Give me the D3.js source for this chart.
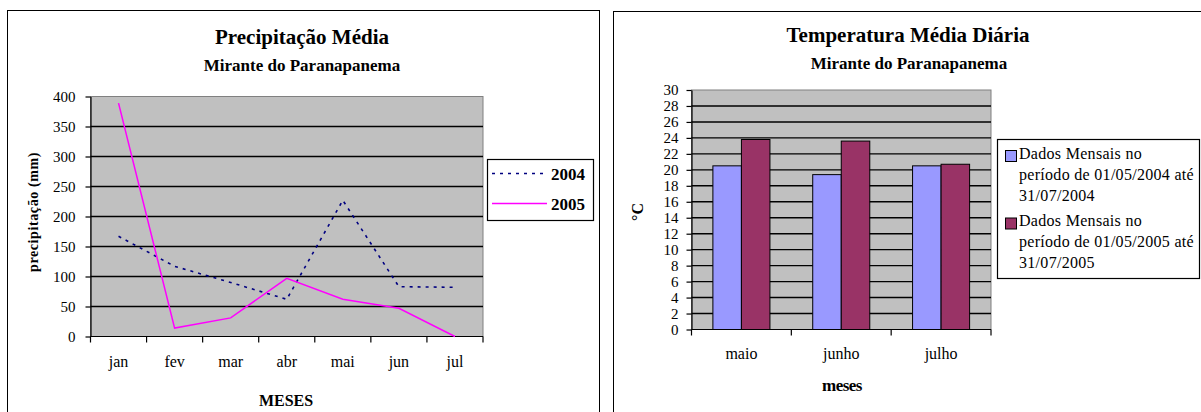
<!DOCTYPE html>
<html>
<head>
<meta charset="utf-8">
<script src="https://cdn.jsdelivr.net/npm/d3@7"></script>
<style>
  html, body { margin: 0; padding: 0; background: #fff; }
  svg { display: block; }
</style>
</head>
<body>
<svg id="chart" width="1201" height="412"></svg>
<script>
// Precipitação média mensal (mm)
const mesesPrec = ["jan", "fev", "mar", "abr", "mai", "jun", "jul"];
const prec2004 = [167, 117, 90, 62, 227, 83, 82];
const prec2005 = [389, 14, 31, 97, 62, 47, 0];
const precTicks = [0, 50, 100, 150, 200, 250, 300, 350, 400];
const precSeries = ["2004", "2005"];

// Temperatura média diária (°C)
const mesesTemp = ["maio", "junho", "julho"];
const temp2004 = [20.5, 19.4, 20.5];
const temp2005 = [23.8, 23.6, 20.7];
const tempTicks = [0, 2, 4, 6, 8, 10, 12, 14, 16, 18, 20, 22, 24, 26, 28, 30];
const tempSeries = [
  ["Dados Mensais no", "período de 01/05/2004 até", "31/07/2004"],
  ["Dados Mensais no", "período de 01/05/2005 até", "31/07/2005"]
];

const serif = "'Liberation Serif', 'Times New Roman', serif";
const svg = d3.select("#chart");
const plotBg = "#c0c0c0";

// ---------- Painel esquerdo: precipitação ----------
const L = svg.append("g");
L.append("rect").attr("x", 7.5).attr("y", 10.5).attr("width", 592).attr("height", 430)
  .attr("fill", "#fff").attr("stroke", "#000").attr("stroke-width", 1);

L.append("text").attr("x", 302).attr("y", 44).attr("text-anchor", "middle")
  .attr("font-size", 21).attr("font-weight", "bold").text("Precipitação Média");
L.append("text").attr("x", 302).attr("y", 71).attr("text-anchor", "middle")
  .attr("font-size", 17).attr("font-weight", "bold")
  .text("Mirante do Paranapanema");

const xP = d3.scaleBand().domain(mesesPrec).range([90.5, 483]);
const yP = d3.scaleLinear().domain([0, 400]).range([336.5, 96.5]);

L.append("rect").attr("x", xP.range()[0]).attr("y", yP(400))
  .attr("width", xP.range()[1] - xP.range()[0]).attr("height", yP(0) - yP(400))
  .attr("fill", plotBg).attr("stroke", "#808080").attr("stroke-width", 1);

L.append("g").selectAll("line").data(precTicks.filter(t => t > 0 && t < 400)).join("line")
  .attr("x1", xP.range()[0]).attr("x2", xP.range()[1])
  .attr("y1", d => yP(d)).attr("y2", d => yP(d))
  .attr("stroke", "#000").attr("stroke-width", 1.4);

const axLP = L.append("g").attr("transform", `translate(${xP.range()[0]},0)`)
  .call(d3.axisLeft(yP).tickValues(precTicks).tickSize(5).tickPadding(10).tickSizeOuter(0));
axLP.select(".domain").attr("stroke", "#000").attr("stroke-width", 1.2);
axLP.selectAll(".tick line").attr("stroke", "#000").attr("stroke-width", 1.2);
axLP.selectAll(".tick text").attr("font-size", 15);

// eixo x: marcas nos limites das categorias, rótulos no centro
const bP = L.append("g");
bP.append("line").attr("x1", xP.range()[0]).attr("x2", xP.range()[1])
  .attr("y1", yP(0)).attr("y2", yP(0)).attr("stroke", "#000").attr("stroke-width", 1.2);
bP.selectAll("line.tk").data(mesesPrec.map(m => xP(m)).concat([xP.range()[1]])).join("line")
  .attr("class", "tk").attr("x1", d => d).attr("x2", d => d)
  .attr("y1", yP(0)).attr("y2", yP(0) + 6).attr("stroke", "#000").attr("stroke-width", 1.2);
bP.selectAll("text").data(mesesPrec).join("text")
  .attr("x", d => xP(d) + xP.bandwidth() / 2).attr("y", 367)
  .attr("text-anchor", "middle").attr("font-size", 16).text(d => d);

L.append("text").attr("transform", "translate(38,212) rotate(-90)")
  .attr("text-anchor", "middle").attr("font-size", 14).attr("font-weight", "bold")
  .attr("letter-spacing", 0.6).text("precipitação (mm)");
L.append("text").attr("x", 286).attr("y", 406).attr("text-anchor", "middle")
  .attr("font-size", 16).attr("font-weight", "bold").text("MESES");

const lineP = d3.line().x((d, i) => xP(mesesPrec[i]) + xP.bandwidth() / 2).y(d => yP(d));
L.append("path").datum(prec2004).attr("d", lineP).attr("fill", "none")
  .attr("stroke", "#000080").attr("stroke-width", 1.6).attr("stroke-dasharray", "3,5");
L.append("path").datum(prec2005).attr("d", lineP).attr("fill", "none")
  .attr("stroke", "#ff00ff").attr("stroke-width", 1.5);

// legenda
const legP = L.append("g");
legP.append("rect").attr("x", 487.5).attr("y", 159.5).attr("width", 106).attr("height", 61)
  .attr("fill", "#fff").attr("stroke", "#000").attr("stroke-width", 1.2);
const legStyles = [
  { color: "#000080", dash: "3,5" },
  { color: "#ff00ff", dash: null }
];
precSeries.forEach((s, i) => {
  const cy = 173.5 + i * 30;
  legP.append("line").attr("x1", 492).attr("x2", 547).attr("y1", cy).attr("y2", cy)
    .attr("stroke", legStyles[i].color).attr("stroke-width", 1.6)
    .attr("stroke-dasharray", legStyles[i].dash);
  legP.append("text").attr("x", 551).attr("y", cy + 6).attr("font-size", 17)
    .attr("font-weight", "bold").text(s);
});

// ---------- Painel direito: temperatura ----------
const R = svg.append("g");
R.append("rect").attr("x", 613.5).attr("y", 11.5).attr("width", 620).attr("height", 430)
  .attr("fill", "#fff").attr("stroke", "#000").attr("stroke-width", 1);

R.append("text").attr("x", 908).attr("y", 42).attr("text-anchor", "middle")
  .attr("font-size", 21).attr("font-weight", "bold").text("Temperatura Média Diária");
R.append("text").attr("x", 909).attr("y", 69).attr("text-anchor", "middle")
  .attr("font-size", 17).attr("font-weight", "bold")
  .text("Mirante do Paranapanema");

const xT = d3.scaleBand().domain(mesesTemp).range([691.5, 991]);
const xTs = d3.scaleBand().domain([0, 1]).range([0, xT.bandwidth()]).paddingInner(0).paddingOuter(0.75);
const yT = d3.scaleLinear().domain([0, 30]).range([329.5, 90]);

R.append("rect").attr("x", xT.range()[0]).attr("y", yT(30))
  .attr("width", xT.range()[1] - xT.range()[0]).attr("height", yT(0) - yT(30))
  .attr("fill", plotBg).attr("stroke", "#808080").attr("stroke-width", 1);

R.append("g").selectAll("line").data(tempTicks.filter(t => t > 0 && t < 30)).join("line")
  .attr("x1", xT.range()[0]).attr("x2", xT.range()[1])
  .attr("y1", d => yT(d)).attr("y2", d => yT(d))
  .attr("stroke", "#000").attr("stroke-width", 1.4);

const tempData = mesesTemp.map((m, i) => [temp2004[i], temp2005[i]]);
const barColors = ["#9999ff", "#993366"];
R.append("g").selectAll("g").data(tempData).join("g")
  .attr("transform", (d, i) => `translate(${xT(mesesTemp[i])},0)`)
  .selectAll("rect").data(d => d).join("rect")
  .attr("x", (d, j) => xTs(j)).attr("width", xTs.bandwidth())
  .attr("y", d => yT(d)).attr("height", d => yT(0) - yT(d))
  .attr("fill", (d, j) => barColors[j]).attr("stroke", "#000").attr("stroke-width", 1);

const axLT = R.append("g").attr("transform", `translate(${xT.range()[0]},0)`)
  .call(d3.axisLeft(yT).tickValues(tempTicks).tickSize(5).tickPadding(8).tickSizeOuter(0));
axLT.select(".domain").attr("stroke", "#000").attr("stroke-width", 1.2);
axLT.selectAll(".tick line").attr("stroke", "#000").attr("stroke-width", 1.2);
axLT.selectAll(".tick text").attr("font-size", 15);

const bT = R.append("g");
bT.append("line").attr("x1", xT.range()[0]).attr("x2", xT.range()[1])
  .attr("y1", yT(0)).attr("y2", yT(0)).attr("stroke", "#000").attr("stroke-width", 1.2);
bT.selectAll("line.tk").data(mesesTemp.map(m => xT(m)).concat([xT.range()[1]])).join("line")
  .attr("class", "tk").attr("x1", d => d).attr("x2", d => d)
  .attr("y1", yT(0)).attr("y2", yT(0) + 6).attr("stroke", "#000").attr("stroke-width", 1.2);
bT.selectAll("text").data(mesesTemp).join("text")
  .attr("x", d => xT(d) + xT.bandwidth() / 2).attr("y", 359)
  .attr("text-anchor", "middle").attr("font-size", 16).text(d => d);

R.append("text").attr("transform", "translate(643,212) rotate(-90)")
  .attr("text-anchor", "middle").attr("font-size", 16).attr("font-weight", "bold").text("°C");
R.append("text").attr("x", 842).attr("y", 391).attr("text-anchor", "middle")
  .attr("font-size", 17).attr("font-weight", "bold").attr("letter-spacing", -0.5).text("meses");

// legenda
const legT = R.append("g");
legT.append("rect").attr("x", 997.5).attr("y", 139.5).attr("width", 202).attr("height", 139)
  .attr("fill", "#fff").attr("stroke", "#000").attr("stroke-width", 1.2);
tempSeries.forEach((lines, i) => {
  const top = 150.5 + i * 67.5;
  legT.append("rect").attr("x", 1005.5).attr("y", top).attr("width", 11).attr("height", 11)
    .attr("fill", barColors[i]).attr("stroke", "#000").attr("stroke-width", 1);
  lines.forEach((t, k) => {
    legT.append("text").attr("x", 1019).attr("y", top + 8 + k * 21)
      .attr("font-size", 16).attr("letter-spacing", 0.3).text(t);
  });
});

// todos os textos em fonte serifada
svg.selectAll("text").attr("font-family", serif).attr("fill", "#000");
</script>
</body>
</html>
